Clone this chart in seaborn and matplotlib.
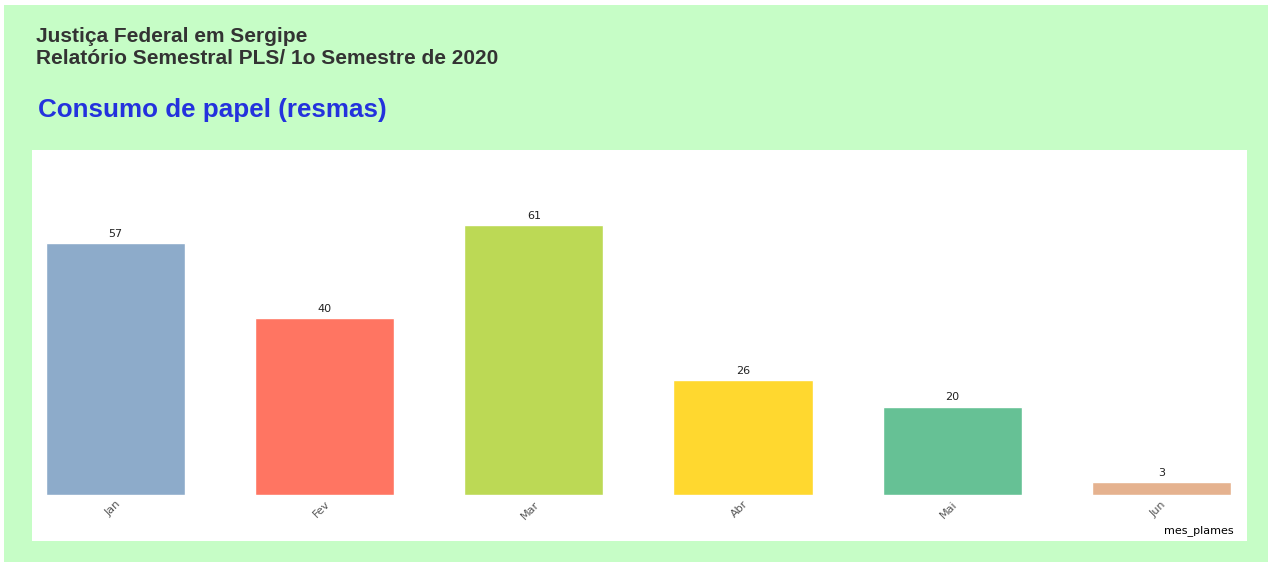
import matplotlib
matplotlib.use("Agg")
import matplotlib.pyplot as plt
import seaborn as sns
import pandas as pd
from matplotlib.patches import Rectangle

# Data
meses = ['Jan', 'Fev', 'Mar', 'Abr', 'Mai', 'Jun']
resmas = [57, 40, 61, 26, 20, 3]
cores = ['#8DABCA', '#FF7562', '#BCD955', '#FFD82F', '#66C195', '#E5B28F']

df = pd.DataFrame({'mes_plames': meses, 'resmas': resmas})

sns.set_theme(style='white')
plt.rcParams['font.family'] = ['Liberation Sans', 'DejaVu Sans']

fig = plt.figure(figsize=(12.73, 5.62), dpi=100)
fig.patch.set_facecolor('white')

# green panel + white plot area
fig.add_artist(Rectangle((4 / 1273, 0), 1264 / 1273, 557 / 562, transform=fig.transFigure,
                         facecolor='#C6FDC6', edgecolor='none', zorder=0))
fig.add_artist(Rectangle((32 / 1273, 21 / 562), 1215 / 1273, 391 / 562, transform=fig.transFigure,
                         facecolor='white', edgecolor='none', zorder=0))

# titles
fig.text(36 / 1273, 1 - 36 / 562, 'Justiça Federal em Sergipe', fontsize=15, fontweight='bold',
         color='#333333', va='center', ha='left')
fig.text(36 / 1273, 1 - 59 / 562, 'Relatório Semestral PLS/ 1o Semestre de 2020', fontsize=15,
         fontweight='bold', color='#333333', va='center', ha='left')
fig.text(38 / 1273, 1 - 110 / 562, 'Consumo de papel (resmas)', fontsize=18.7, fontweight='bold',
         color='#2432DD', va='center', ha='left')

ax = fig.add_axes([32 / 1273, (562 - 495) / 562, 1215 / 1273, 345 / 562])
ax.set_facecolor('none')
sns.barplot(data=df, x='mes_plames', y='resmas', hue='mes_plames', palette=cores,
            legend=False, width=0.665, saturation=1, ax=ax)

for c in ax.containers:
    ax.bar_label(c, padding=3, fontsize=8, color='#222222', family='DejaVu Sans')

ax.set_xlim(-0.40, 5.41)
ax.set_ylim(0, 78)
ax.set_yticks([])
ax.set_ylabel('')
ax.set_xlabel('')
for s in ax.spines.values():
    s.set_visible(False)
ax.tick_params(axis='x', length=0, pad=3)
plt.setp(ax.get_xticklabels(), rotation=45, ha='right', rotation_mode='anchor',
         fontsize=8, color='#555555', family='DejaVu Sans')

fig.text(1234 / 1273, 1 - 531 / 562, 'mes_plames', fontsize=8, color='black',
         ha='right', va='center', family='DejaVu Sans')

fig.savefig('out.png', dpi=100)
